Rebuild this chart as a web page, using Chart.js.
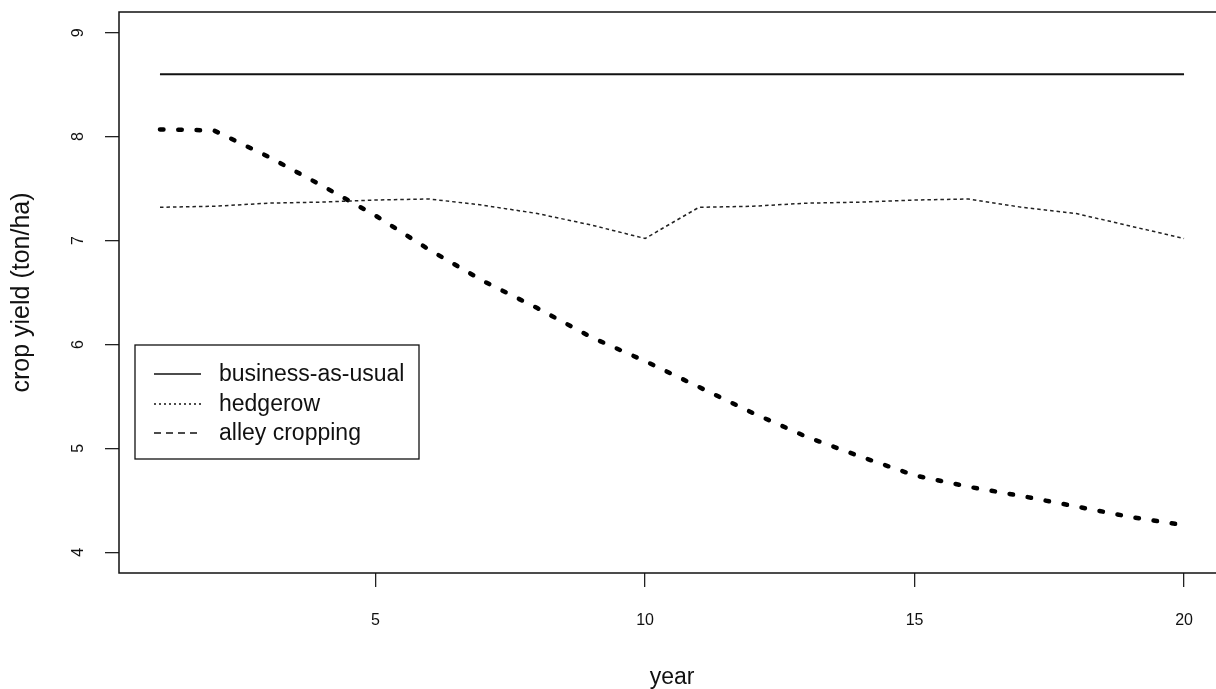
<!DOCTYPE html>
<html>
<head>
<meta charset="utf-8">
<title>crop yield</title>
<script src="https://cdn.jsdelivr.net/npm/chart.js@4/dist/chart.umd.min.js"></script>
<style>
  html, body { margin: 0; padding: 0; background: #fff; overflow: hidden; }
  canvas { display: block; }
</style>
</head>
<body>
<canvas id="yieldChart" width="1232" height="689"></canvas>
<script>
const years = [1, 2, 3, 4, 5, 6, 7, 8, 9, 10, 11, 12, 13, 14, 15, 16, 17, 18, 19, 20];
const businessAsUsual = [8.6, 8.6, 8.6, 8.6, 8.6, 8.6, 8.6, 8.6, 8.6, 8.6,
  8.6, 8.6, 8.6, 8.6, 8.6, 8.6, 8.6, 8.6, 8.6, 8.6];
const hedgerow = [7.32, 7.33, 7.36, 7.37, 7.39, 7.40, 7.34, 7.26, 7.15, 7.02,
  7.32, 7.33, 7.36, 7.37, 7.39, 7.40, 7.32, 7.26, 7.14, 7.02];
const alleyCropping = [8.07, 8.06, 7.81, 7.53, 7.24, 6.91, 6.61, 6.35, 6.07, 5.84,
  5.59, 5.34, 5.11, 4.92, 4.74, 4.63, 4.54, 4.44, 4.34, 4.26];
const seriesNames = ['business-as-usual', 'hedgerow', 'alley cropping'];
const xTicks = [5, 10, 15, 20];
const yTicks = [4, 5, 6, 7, 8, 9];

const FONT = 'Liberation Sans, Arial, sans-serif';
const NARROW = 'Liberation Sans Narrow, Liberation Sans, Arial, sans-serif';

// legend samples use thin lines, not the plot widths
const legendStyles = [
  { dash: [], width: 1.3 },
  { dash: [2, 3], width: 1.3 },
  { dash: [7, 5], width: 1.3 },
];

const toPoints = (vals) => vals.map((v, i) => ({ x: years[i], y: v }));

const boxPlugin = {
  id: 'box',
  afterDraw(chart) {
    const { ctx, chartArea: a } = chart;
    ctx.save();
    ctx.strokeStyle = '#111';
    ctx.lineWidth = 1.5;
    ctx.strokeRect(a.left, a.top, a.right - a.left, a.bottom - a.top);
    ctx.restore();
  },
};

// R style y labels, turned to read upwards
const yLabelPlugin = {
  id: 'yLabels',
  afterDraw(chart) {
    const { ctx } = chart;
    const y = chart.scales.y;
    ctx.save();
    ctx.fillStyle = '#111';
    ctx.font = `16px ${NARROW}`;
    ctx.textAlign = 'center';
    ctx.textBaseline = 'middle';
    yTicks.forEach((v) => {
      ctx.save();
      ctx.translate(79, y.getPixelForValue(v));
      ctx.rotate(-Math.PI / 2);
      ctx.fillText(String(v), 0, 0);
      ctx.restore();
    });
    ctx.restore();
  },
};

const legendPlugin = {
  id: 'boxLegend',
  afterDraw(chart) {
    const { ctx } = chart;
    ctx.save();
    ctx.strokeStyle = '#111';
    ctx.lineWidth = 1.3;
    ctx.strokeRect(135, 345, 284, 114);
    ctx.font = `23px ${FONT}`;
    ctx.fillStyle = '#111';
    ctx.textBaseline = 'middle';
    const rows = [374, 404, 433];
    seriesNames.forEach((name, i) => {
      const st = legendStyles[i];
      ctx.beginPath();
      ctx.setLineDash(st.dash);
      ctx.lineWidth = st.width;
      ctx.moveTo(154, rows[i]);
      ctx.lineTo(201, rows[i]);
      ctx.stroke();
      ctx.setLineDash([]);
      ctx.fillText(name, 219, rows[i] + 1);
    });
    ctx.restore();
  },
};

const ctx = document.getElementById('yieldChart').getContext('2d');

new Chart(ctx, {
  type: 'line',
  data: {
    datasets: [
      {
        label: seriesNames[0],
        data: toPoints(businessAsUsual),
        borderColor: '#111',
        borderWidth: 2,
        pointRadius: 0,
        tension: 0,
      },
      {
        label: seriesNames[1],
        data: toPoints(hedgerow),
        borderColor: '#222',
        borderWidth: 1.5,
        borderDash: [3.5, 3],
        pointRadius: 0,
        tension: 0,
      },
      {
        label: seriesNames[2],
        data: toPoints(alleyCropping),
        borderColor: '#000',
        borderWidth: 4.5,
        borderDash: [3.5, 14.8],
        borderCapStyle: 'round',
        pointRadius: 0,
        tension: 0,
      },
    ],
  },
  options: {
    responsive: false,
    animation: false,
    devicePixelRatio: 1,
    layout: {
      padding: { left: 0, right: 7, top: 12, bottom: 0 },
    },
    plugins: {
      legend: { display: false },
      tooltip: { enabled: false },
    },
    scales: {
      x: {
        type: 'linear',
        position: 'bottom',
        min: 0.24,
        max: 20.76,
        afterBuildTicks: (scale) => {
          scale.ticks = xTicks.map((v) => ({ value: v }));
        },
        afterFit: (scale) => {
          scale.height = 116;
        },
        border: { display: false },
        grid: {
          drawOnChartArea: false,
          drawTicks: true,
          tickLength: 14,
          color: '#222',
          lineWidth: 1.3,
        },
        ticks: {
          autoSkip: false,
          maxRotation: 0,
          padding: 26,
          color: '#111',
          font: { family: NARROW, size: 16, lineHeight: 1 },
        },
        title: {
          display: true,
          text: 'year',
          color: '#111',
          font: { family: FONT, size: 23, lineHeight: 1 },
          padding: { top: 0, bottom: 0 },
        },
      },
      y: {
        type: 'linear',
        min: 3.8,
        max: 9.2,
        afterBuildTicks: (scale) => {
          scale.ticks = yTicks.map((v) => ({ value: v }));
        },
        afterFit: (scale) => {
          scale.width = 119;
        },
        border: { display: false },
        grid: {
          drawOnChartArea: false,
          drawTicks: true,
          tickLength: 14,
          color: '#222',
          lineWidth: 1.3,
        },
        ticks: { display: false },
        title: {
          display: true,
          text: 'crop yield (ton/ha)',
          color: '#111',
          font: { family: FONT, size: 25, lineHeight: 1 },
          padding: { top: 10, bottom: 0 },
        },
      },
    },
  },
  plugins: [boxPlugin, yLabelPlugin, legendPlugin],
});
</script>
</body>
</html>
